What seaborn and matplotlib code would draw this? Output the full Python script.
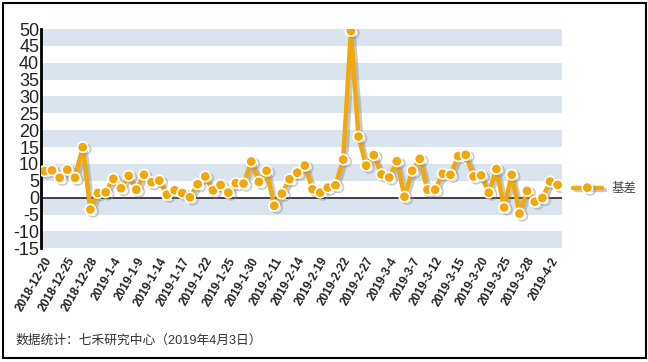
import matplotlib
matplotlib.use("Agg")
import matplotlib.pyplot as plt
import matplotlib.patheffects as pe
from matplotlib.patches import Rectangle
import pandas as pd
import seaborn as sns

# ─── Datos ────────────────────────────────────────────────────────────────────

DATES = [
    "2018-12-20", "2018-12-21", "2018-12-24", "2018-12-25", "2018-12-26", "2018-12-27", "2018-12-28",
    "2019-1-2", "2019-1-3", "2019-1-4", "2019-1-7", "2019-1-8", "2019-1-9", "2019-1-10",
    "2019-1-11", "2019-1-14", "2019-1-15", "2019-1-16", "2019-1-17", "2019-1-18", "2019-1-21",
    "2019-1-22", "2019-1-23", "2019-1-24", "2019-1-25", "2019-1-28", "2019-1-29", "2019-1-30",
    "2019-1-31", "2019-2-1", "2019-2-11", "2019-2-12", "2019-2-13", "2019-2-14", "2019-2-15",
    "2019-2-18", "2019-2-19", "2019-2-20", "2019-2-21", "2019-2-22", "2019-2-25", "2019-2-26",
    "2019-2-27", "2019-2-28", "2019-3-1", "2019-3-4", "2019-3-5", "2019-3-6", "2019-3-7",
    "2019-3-8", "2019-3-11", "2019-3-12", "2019-3-13", "2019-3-14", "2019-3-15", "2019-3-18",
    "2019-3-19", "2019-3-20", "2019-3-21", "2019-3-22", "2019-3-25", "2019-3-26", "2019-3-27",
    "2019-3-28", "2019-3-29", "2019-4-1", "2019-4-2", "2019-4-3",
]

BASIS = [
    7.9, 8.1, 5.9, 8.3, 5.9, 15.0, -3.5, 1.4, 1.6, 5.6,
    2.8, 6.5, 2.4, 6.8, 4.6, 5.1, 0.9, 2.2, 1.4, 0.1,
    4.0, 6.3, 2.2, 3.8, 1.5, 4.3, 4.2, 10.7, 4.7, 8.0,
    -2.4, 1.2, 5.5, 7.4, 9.5, 2.5, 1.5, 3.0, 3.7, 11.3,
    49.4, 18.1, 9.5, 12.6, 6.9, 6.0, 10.8, 0.3, 8.0, 11.5,
    2.4, 2.4, 7.1, 6.8, 12.3, 12.7, 6.3, 6.6, 1.5, 8.5,
    -2.9, 6.8, -4.7, 2.0, -1.2, -0.1, 4.8, 3.8,
]

SERIES_NAME = "基差"
Y_TICKS = list(range(-15, 51, 5))
LABEL_STEP = 3
FOOTER = "数据统计：七禾研究中心（2019年4月3日）"

ORANGE = "#F0A80A"
BAND = "#DAE4EF"

sns.set_style("white")
plt.rcParams["font.family"] = ["Liberation Sans", "Noto Sans CJK SC", "DejaVu Sans"]

W, H = 648, 362
fig = plt.figure(figsize=(W / 100, H / 100), dpi=100)
ax = fig.add_axes([41.3 / W, 1 - 248.3 / H, (561.7 - 41.3) / W, (248.3 - 29) / H])

df = pd.DataFrame({"idx": range(len(DATES)), "fecha": DATES, SERIES_NAME: BASIS})

# bandas alternas
for lo in range(-15, 50, 10):
    ax.axhspan(lo, lo + 5, color=BAND, lw=0, zorder=0)
ax.axhline(0, color="#333333", lw=1.3, zorder=1)

sns.lineplot(
    data=df, x="idx", y=SERIES_NAME, ax=ax, color=ORANGE, lw=3.2,
    marker="o", markersize=7.5, markerfacecolor=ORANGE, markeredgecolor="white",
    markeredgewidth=1.2, label=SERIES_NAME, zorder=3,
)
line = ax.lines[-1]
line.set_path_effects([
    pe.SimpleLineShadow(offset=(2, -1.5), shadow_color="#888888", alpha=0.45),
    pe.Normal(),
])

ax.set_xlim(-0.4, len(DATES) - 0.48)
ax.set_ylim(-15, 50)
ax.set_yticks(Y_TICKS)
ax.set_yticklabels([str(v) for v in Y_TICKS], fontsize=13, color="#222222")
tick_pos = list(range(0, len(DATES), LABEL_STEP))
ax.set_xticks(tick_pos)
ax.set_xticklabels([DATES[i] for i in tick_pos], rotation=60, ha="right",
                   rotation_mode="anchor", fontsize=8.5, fontweight="bold", color="#222222")
ax.tick_params(axis="both", length=0)
ax.tick_params(axis="y", pad=1.5)
ax.tick_params(axis="x", pad=5)
ax.set_xlabel("")
ax.set_ylabel("")

for side in ["top", "right", "bottom"]:
    ax.spines[side].set_visible(False)
ax.spines["left"].set_color("black")
ax.spines["left"].set_linewidth(2)

ax.legend(loc="center left", bbox_to_anchor=(573 / W, 1 - 189 / H), bbox_transform=fig.transFigure,
          frameon=False, borderpad=0, borderaxespad=0, handlelength=2.3, handletextpad=0.8,
          prop={"size": 9}, labelcolor="#444444")

fig.text(16 / W, 1 - 341 / H, FOOTER, fontsize=9.2, color="#333333", va="center")

fig.patches.append(Rectangle((3 / W, 1 - 358 / H), 643 / W, 355 / H, transform=fig.transFigure,
                             fill=False, edgecolor="black", lw=1.5))

fig.savefig("out.png", dpi=100)
plt.close(fig)
